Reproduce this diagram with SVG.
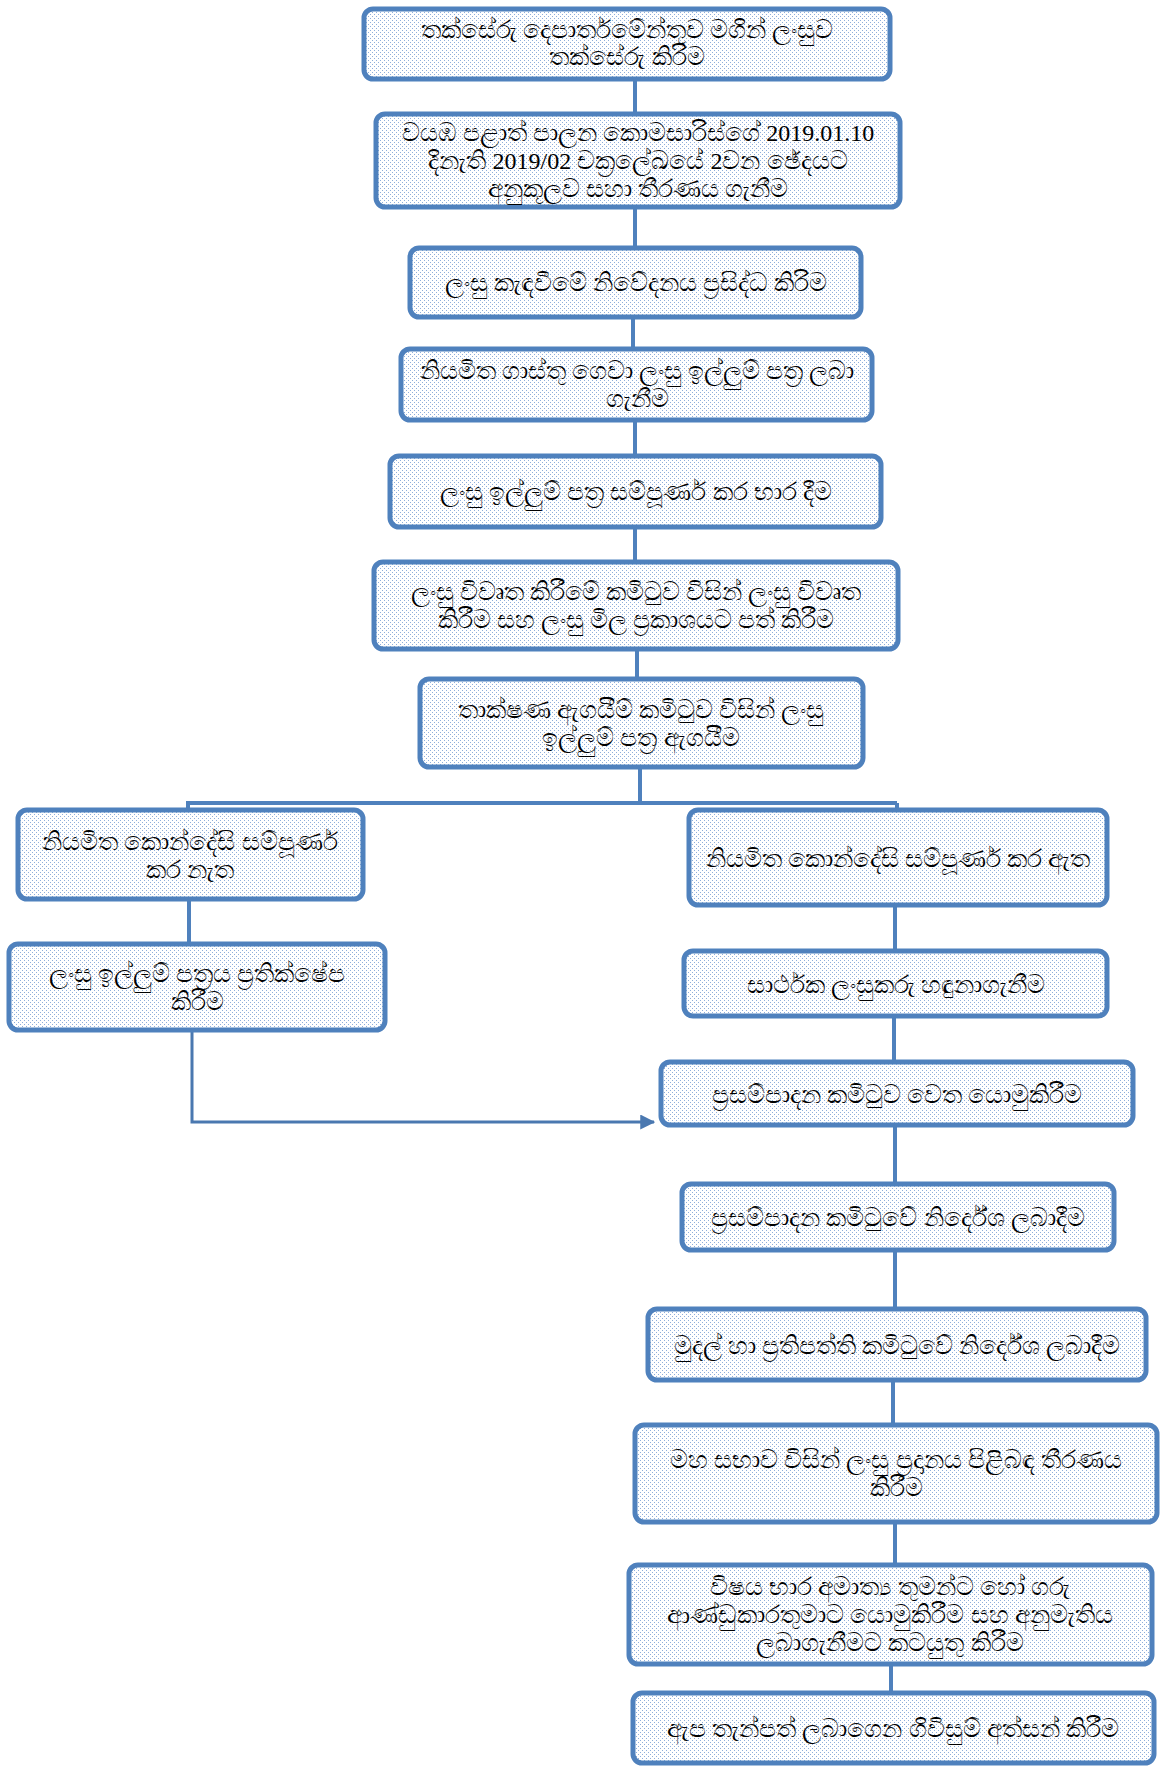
<svg xmlns="http://www.w3.org/2000/svg" width="1160" height="1769" viewBox="0 0 1160 1769">
<defs>
<pattern id="dots" width="4" height="4" patternUnits="userSpaceOnUse">
<rect width="4" height="4" fill="#ffffff"/>
<rect x="0" y="0" width="1" height="1" fill="#8FAEDA"/>
<rect x="2" y="2" width="1" height="1" fill="#8FAEDA"/>
</pattern>
<marker id="arr" viewBox="0 0 12 12" refX="11" refY="6" markerWidth="5" markerHeight="5" orient="auto" markerUnits="strokeWidth">
<path d="M0,0 L12,6 L0,12 Z" fill="#4A78B0"/>
</marker>
<style>
.box{fill:url(#dots);stroke:#4F81BD;stroke-width:5}
.t{font-family:"Liberation Serif","Noto Sans",serif;font-size:24.6px;fill:#000;text-anchor:middle}
.d{font-size:24px}
.c{fill:none;stroke:#4F81BD;stroke-width:4}
.a{fill:none;stroke:#4A78B0;stroke-width:3}
</style>
</defs>
<rect width="1160" height="1769" fill="#ffffff"/>
<g id="connectors">
<path class="c" d="M635 79V114"/>
<path class="c" d="M635 207V248"/>
<path class="c" d="M633 317V349"/>
<path class="c" d="M635 420V456"/>
<path class="c" d="M635 527V562"/>
<path class="c" d="M637 649V679"/>
<path class="c" d="M640 767V803"/>
<path class="c" d="M186 803H897"/>
<path class="c" d="M188 803V810"/>
<path class="c" d="M897 803V810"/>
<path class="c" d="M189 899V944"/>
<path class="c" d="M895 905V951"/>
<path class="c" d="M894 1016V1062"/>
<path class="c" d="M895 1125V1184"/>
<path class="c" d="M895 1250V1309"/>
<path class="c" d="M893 1380V1425"/>
<path class="c" d="M895 1522V1565"/>
<path class="c" d="M891 1664V1693"/>
<path class="a" d="M192 1030V1122H654" marker-end="url(#arr)"/>
</g>
<g id="n1"><rect class="box" x="364" y="9" width="526" height="70" rx="9"/>
<text class="t" x="627" y="38">තක්සේරු දෙපාර්තමේන්තුව මගින් ලංසුව</text>
<text class="t" x="627" y="65">තක්සේරු කිරිම</text></g>
<g id="n2"><rect class="box" x="376" y="114" width="524" height="93" rx="9"/>
<text class="t" x="638" y="141">වයඹ පළාත් පාලන කොමසාරිස්ගේ <tspan class="d">2019.01.10</tspan></text>
<text class="t" x="638" y="169">දිනැති <tspan class="d">2019/02</tspan> චක්‍රලේඛයේ <tspan class="d">2</tspan>වන ඡේදයට</text>
<text class="t" x="638" y="197">අනුකූලව සහා තීරණය ගැනීම</text></g>
<g id="n3"><rect class="box" x="410" y="248" width="451" height="69" rx="9"/>
<text class="t" x="636" y="291">ලංසු කැඳවීමේ නිවේදනය ප්‍රසිද්ධ කිරිම</text></g>
<g id="n4"><rect class="box" x="401" y="349" width="471" height="71" rx="9"/>
<text class="t" x="637" y="379">නියමිත ගාස්තු ගෙවා ලංසු ඉල්ලුම් පත්‍ර ලබා</text>
<text class="t" x="637" y="407">ගැනීම</text></g>
<g id="n5"><rect class="box" x="390" y="456" width="491" height="71" rx="9"/>
<text class="t" x="636" y="500">ලංසු ඉල්ලුම් පත්‍ර සම්පූර්ණ කර භාර දීම</text></g>
<g id="n6"><rect class="box" x="374" y="562" width="524" height="87" rx="9"/>
<text class="t" x="636" y="600">ලංසු විවෘත කිරීමේ කමිටුව විසින් ලංසු විවෘත</text>
<text class="t" x="636" y="628">කිරීම සහ ලංසු මිල ප්‍රකාශයට පත් කිරීම</text></g>
<g id="n7"><rect class="box" x="420" y="679" width="443" height="88" rx="9"/>
<text class="t" x="641" y="718">තාක්ෂණ ඇගයීම් කමිටුව විසින් ලංසු</text>
<text class="t" x="641" y="746">ඉල්ලුම් පත්‍ර ඇගයීම</text></g>
<g id="nA"><rect class="box" x="18" y="810" width="345" height="89" rx="9"/>
<text class="t" x="190" y="850">නියමිත කොන්දේසි සම්පූර්ණ</text>
<text class="t" x="190" y="878">කර නැත</text></g>
<g id="nB"><rect class="box" x="689" y="810" width="418" height="95" rx="9"/>
<text class="t" x="898" y="867">නියමිත කොන්දේසි සම්පූර්ණ කර ඇත</text></g>
<g id="nC"><rect class="box" x="9" y="944" width="376" height="86" rx="9"/>
<text class="t" x="197" y="982">ලංසු ඉල්ලුම් පත්‍රය ප්‍රතික්ෂේප</text>
<text class="t" x="197" y="1010">කිරීම</text></g>
<g id="nD"><rect class="box" x="684" y="951" width="423" height="65" rx="9"/>
<text class="t" x="896" y="993">සාර්ථක ලංසුකරු හඳුනාගැනීම</text></g>
<g id="nE"><rect class="box" x="661" y="1062" width="472" height="63" rx="9"/>
<text class="t" x="897" y="1103">ප්‍රසම්පාදන කමිටුව වෙත යොමුකිරීම</text></g>
<g id="nF"><rect class="box" x="682" y="1184" width="432" height="66" rx="9"/>
<text class="t" x="898" y="1226">ප්‍රසම්පාදන කමිටුවේ නිර්දේශ ලබාදීම</text></g>
<g id="nG"><rect class="box" x="648" y="1309" width="498" height="71" rx="9"/>
<text class="t" x="897" y="1354">මුදල් හා ප්‍රතිපත්ති කමිටුවේ නිර්දේශ ලබාදීම</text></g>
<g id="nH"><rect class="box" x="635" y="1425" width="522" height="97" rx="9"/>
<text class="t" x="896" y="1468">මහ සභාව විසින් ලංසු ප්‍රදානය පිළිබඳ තීරණය</text>
<text class="t" x="896" y="1496">කිරීම</text></g>
<g id="nI"><rect class="box" x="629" y="1565" width="523" height="99" rx="9"/>
<text class="t" x="890" y="1595">විෂය භාර අමාත්‍ය තුමන්ට හෝ ගරු</text>
<text class="t" x="890" y="1623">ආණ්ඩුකාරතුමාට යොමුකිරීම සහ අනුමැතිය</text>
<text class="t" x="890" y="1651">ලබාගැනීමට කටයුතු කිරීම</text></g>
<g id="nJ"><rect class="box" x="633" y="1693" width="521" height="70" rx="9"/>
<text class="t" x="893" y="1737">ඇප තැන්පත් ලබාගෙන ගිවිසුම් අත්සන් කිරීම</text></g>
</svg>
